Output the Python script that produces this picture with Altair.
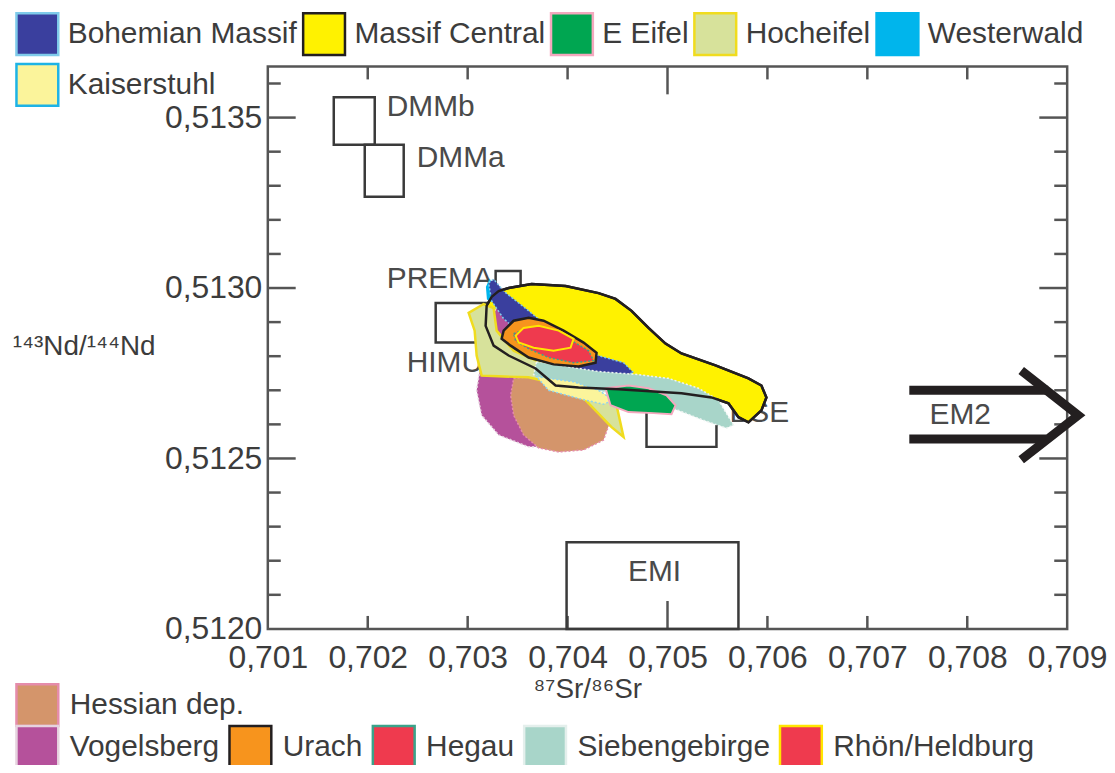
import altair as alt
import pandas as pd

W, H = 803, 565

# ---------------- axes ----------------
x_tick_values = [0.701, 0.702, 0.703, 0.704, 0.705, 0.706, 0.707, 0.708, 0.709]
y_tick_values = [0.5120, 0.5125, 0.5130, 0.5135]
x_minor = [0.702, 0.703, 0.704, 0.706, 0.707, 0.708]
x_major = [0.705]
y_minor = [0.5121, 0.5122, 0.5123, 0.5124, 0.5126, 0.5127, 0.5128, 0.5129,
           0.5131, 0.5132, 0.5133, 0.5134, 0.5136]
y_major = [0.5125, 0.5130, 0.5135]

# ---------------- reference boxes ----------------
box_names = ["DMMb", "DMMa", "PREMA", "HIMU", "BSE", "EMI"]
box_x1 = [0.70166, 0.70197, 0.70328, 0.70268, 0.70479, 0.70399]
box_x2 = [0.70207, 0.70236, 0.70353, 0.70321, 0.70549, 0.70571]
box_y1 = [0.513420, 0.513268, 0.512935, 0.512840, 0.512534, 0.512000]
box_y2 = [0.513560, 0.513420, 0.513050, 0.512956, 0.512665, 0.512254]

lab_left = ["DMMb", "DMMa", "PREMA", "HIMU", "BSE"]
lab_left_x = [0.70219, 0.70249, 0.70219, 0.70239, 0.70562]
lab_left_y = [0.513531, 0.513382, 0.513026, 0.512781, 0.512633]
lab_center = ["EMI", "EM2"]
lab_center_x = [0.70487, 0.70793]
lab_center_y = [0.512166, 0.512627]

# EM2 arrow
em2_path = ["a", "a", "b", "b", "c", "c", "c"]
em2_x = [0.70742, 0.70881, 0.70742, 0.70879, 0.70854, 0.70911, 0.70854]
em2_y = [0.512700, 0.512700, 0.512557, 0.512557, 0.512758, 0.512627, 0.512496]

# ---------------- fields (polygons) ----------------
mc_x = [0.70324, 0.70331, 0.70341, 0.70364, 0.70398, 0.70431, 0.70448, 0.70464, 0.70481,
        0.70498, 0.70514, 0.70548, 0.70581, 0.70594, 0.70599, 0.70594, 0.70581, 0.70571,
        0.70561, 0.70544, 0.70514, 0.70498, 0.70451, 0.70411, 0.70388, 0.70368, 0.70341,
        0.70326, 0.70318, 0.70319]
mc_y = [0.512974, 0.512991, 0.513000, 0.513012, 0.513006, 0.512985, 0.512968, 0.512933, 0.512883,
        0.512837, 0.512808, 0.512773, 0.512735, 0.512714, 0.512679, 0.512641, 0.512606, 0.512621,
        0.512662, 0.512679, 0.512691, 0.512694, 0.512703, 0.512708, 0.512714, 0.512764, 0.512802,
        0.512831, 0.512889, 0.512948]

vog_x = [0.70331, 0.70351, 0.70366, 0.70376, 0.70391, 0.70406, 0.70391, 0.70361, 0.70331,
         0.70314, 0.70309, 0.70313, 0.70319, 0.70323]
vog_y = [0.512948, 0.512933, 0.512875, 0.512773, 0.512671, 0.512554, 0.512534, 0.512534, 0.512569,
         0.512627, 0.512700, 0.512773, 0.512860, 0.512918]

hes_x = [0.70346, 0.70381, 0.70411, 0.70431, 0.70443, 0.70436, 0.70416, 0.70391, 0.70371,
         0.70356, 0.70346, 0.70343]
hes_y = [0.512735, 0.512743, 0.512714, 0.512671, 0.512612, 0.512554, 0.512525, 0.512519, 0.512531,
         0.512569, 0.512627, 0.512685]

kai_x = [0.70369, 0.70406, 0.70431, 0.70446, 0.70436, 0.70411, 0.70381]
kai_y = [0.512740, 0.512725, 0.512700, 0.512671, 0.512659, 0.512676, 0.512700]

hoc_x = [0.70301, 0.70316, 0.70326, 0.70329, 0.70346, 0.70376, 0.70406, 0.70431, 0.70449,
         0.70456, 0.70444, 0.70418, 0.70391, 0.70361, 0.70331, 0.70314, 0.70309, 0.70307]
hoc_y = [0.512927, 0.512953, 0.512941, 0.512875, 0.512816, 0.512778, 0.512738, 0.512697, 0.512656,
         0.512563, 0.512592, 0.512671, 0.512717, 0.512738, 0.512741, 0.512743, 0.512802, 0.512875]

wes_x = [0.70319, 0.70322, 0.70326, 0.70324, 0.70320]
wes_y = [0.513003, 0.513023, 0.512991, 0.512962, 0.512968]

boh_x = [0.70321, 0.70326, 0.70336, 0.70361, 0.70391, 0.70421, 0.70456, 0.70466, 0.70451,
         0.70421, 0.70391, 0.70361, 0.70336, 0.70324]
boh_y = [0.513015, 0.513026, 0.512991, 0.512933, 0.512860, 0.512810, 0.512781, 0.512752, 0.512738,
         0.512746, 0.512778, 0.512846, 0.512910, 0.512962]

sie_x = [0.70369, 0.70431, 0.70471, 0.70501, 0.70531, 0.70551, 0.70566, 0.70559, 0.70536,
         0.70511, 0.70481, 0.70451, 0.70421, 0.70391, 0.70366]
sie_y = [0.512784, 0.512755, 0.512746, 0.512735, 0.512706, 0.512671, 0.512598, 0.512589, 0.512612,
         0.512641, 0.512671, 0.512691, 0.512700, 0.512703, 0.512746]

eei_x = [0.70438, 0.70461, 0.70481, 0.70499, 0.70508, 0.70504, 0.70486, 0.70461, 0.70443]
eei_y = [0.512706, 0.512714, 0.512706, 0.512685, 0.512656, 0.512630, 0.512633, 0.512636, 0.512656]

ura_x = [0.70336, 0.70346, 0.70361, 0.70376, 0.70396, 0.70416, 0.70429, 0.70428, 0.70411,
         0.70386, 0.70361, 0.70343, 0.70334]
ura_y = [0.512875, 0.512904, 0.512913, 0.512904, 0.512875, 0.512840, 0.512810, 0.512781, 0.512770,
         0.512776, 0.512796, 0.512831, 0.512851]

heg_x = [0.70346, 0.70361, 0.70381, 0.70401, 0.70421, 0.70426, 0.70406, 0.70381, 0.70361, 0.70348]
heg_y = [0.512866, 0.512883, 0.512875, 0.512851, 0.512816, 0.512787, 0.512781, 0.512796, 0.512822,
         0.512845]

rho_x = [0.70348, 0.70356, 0.70371, 0.70391, 0.70406, 0.70403, 0.70386, 0.70366, 0.70351]
rho_y = [0.512860, 0.512883, 0.512889, 0.512875, 0.512851, 0.512825, 0.512816, 0.512825, 0.512840]

# ---------------- legends ----------------
leg1_names = ["Bohemian Massif", "Massif Central", "E Eifel", "Hocheifel", "Westerwald", "Kaiserstuhl"]
leg1_fill = ["#3A3F9E", "#FFF200", "#00A651", "#D7E29B", "#00B5EC", "#FBF49B"]
leg1_stroke = ["#7FCBEA", "#231F20", "#F4A8BE", "#F0DC1E", "#00B5EC", "#1DB3E6"]
leg2_names = ["Hessian dep."]
leg2_fill = ["#D4956B"]
leg2_stroke = ["#E58CAB"]
leg3_names = ["Vogelsberg", "Urach", "Hegau", "Siebengebirge", "Rhön/Heldburg"]
leg3_fill = ["#B5519B", "#F7941D", "#EF3A4E", "#A8D5C9", "#EF3A4E"]
leg3_stroke = ["#E6D3DF", "#231F20", "#3AA38A", "#E4EFEC", "#FFE600"]

FONT = "Liberation Sans"
TXT = "#3C3C3C"

xscale = alt.Scale(domain=[0.701, 0.709], nice=False, zero=False)
yscale = alt.Scale(domain=[0.5120, 0.51365], nice=False, zero=False)

xaxis = alt.Axis(values=x_tick_values,
                 labelExpr="replace(format(datum.value, '.3f'), '.', ',')",
                 ticks=False, domain=False, grid=False,
                 labelFont=FONT, labelFontSize=32, labelColor=TXT, labelPadding=14,
                 labelFlush=False, labelOverlap=False,
                 title="⁸⁷Sr/⁸⁶Sr", titleFont=FONT, titleFontSize=28,
                 titleFontWeight="normal", titleColor=TXT,
                 titleX=321, titleY=61, titleAlign="center", titleBaseline="middle")
yaxis = alt.Axis(values=y_tick_values,
                 labelExpr="replace(format(datum.value, '.4f'), '.', ',')",
                 ticks=False, domain=False, grid=False,
                 labelFont=FONT, labelFontSize=32, labelColor=TXT, labelPadding=6,
                 labelFlush=False, labelOverlap=False,
                 title="¹⁴³Nd/¹⁴⁴Nd", titleFont=FONT, titleFontSize=28,
                 titleFontWeight="normal", titleColor=TXT, titleAngle=0,
                 titleX=-185, titleY=281, titleAlign="center", titleBaseline="middle")

X = alt.X("x:Q", scale=xscale, axis=xaxis)
Y = alt.Y("y:Q", scale=yscale, axis=yaxis)

TICK = "#555555"
layers = []


def yrules(vals, x0, x1):
    return alt.Chart(pd.DataFrame({"y": vals})).mark_rule(color=TICK, strokeWidth=2.5).encode(
        y=Y, x=alt.value(x0), x2=alt.value(x1))


def xrules(vals, y0, y1):
    return alt.Chart(pd.DataFrame({"x": vals})).mark_rule(color=TICK, strokeWidth=2.5).encode(
        x=X, y=alt.value(y0), y2=alt.value(y1))


layers += [yrules(y_minor, 0, 13), yrules(y_major, 0, 28),
           yrules(y_minor, W, W - 13), yrules(y_major, W, W - 28),
           xrules(x_minor, 0, 13), xrules(x_major, 0, 28),
           xrules(x_minor, H, H - 13), xrules(x_major, H, H - 28)]

boxes = pd.DataFrame({"name": box_names, "x": box_x1, "x2": box_x2, "y": box_y1, "y2": box_y2})
layers.append(alt.Chart(boxes).mark_rect(fill="transparent", stroke="#3A3A3A", strokeWidth=2.5).encode(
    x=X, x2="x2:Q", y=Y, y2="y2:Q"))

layers.append(alt.Chart(pd.DataFrame({"t": lab_left, "x": lab_left_x, "y": lab_left_y})).mark_text(
    align="left", baseline="middle", font=FONT, fontSize=30, color="#4A4A4A").encode(x=X, y=Y, text="t:N"))
layers.append(alt.Chart(pd.DataFrame({"t": lab_center, "x": lab_center_x, "y": lab_center_y})).mark_text(
    align="center", baseline="middle", font=FONT, fontSize=30, color="#4A4A4A").encode(x=X, y=Y, text="t:N"))


def poly(xs, ys, fill, stroke, sw=2.0, dash=None):
    df = pd.DataFrame({"x": xs, "y": ys, "i": list(range(len(xs)))})
    kw = dict(fill=fill, stroke=stroke, strokeWidth=sw, interpolate="linear-closed")
    if dash is not None:
        kw["strokeDash"] = dash
    return alt.Chart(df).mark_line(**kw).encode(x=X, y=Y, order="i:Q")


layers.append(poly(mc_x, mc_y, "#FFF200", "#231F20", 2.5))
layers.append(poly(vog_x, vog_y, "#B5519B", "#E6D3DF", 1.5, [2, 2]))
layers.append(poly(hes_x, hes_y, "#D4956B", "#E58CAB", 1.5, [2, 2]))
layers.append(poly(hoc_x, hoc_y, "#D7E29B", "#F0DC1E", 2.5))
layers.append(poly(wes_x, wes_y, "#00B5EC", "#00B5EC", 1.5))
layers.append(poly(boh_x, boh_y, "#3A3F9E", "#7FCBEA", 1.5, [2, 2]))
layers.append(poly(sie_x, sie_y, "#A8D5C9", "#EEF4F2", 1.5, [2, 2]))
layers.append(poly(kai_x, kai_y, "#FBF49B", "#8FD3F0", 1.5, [2, 2]))
layers.append(poly(eei_x, eei_y, "#00A651", "#F4A8BE", 2.0))
mc_df = pd.DataFrame({"x": mc_x, "y": mc_y, "i": list(range(len(mc_x)))})
layers.append(alt.Chart(mc_df).mark_line(stroke="#231F20", strokeWidth=2.5,
                                         interpolate="linear-closed").encode(x=X, y=Y, order="i:Q"))
layers.append(poly(ura_x, ura_y, "#F7941D", "#231F20", 2.5))
layers.append(poly(heg_x, heg_y, "#EF3A4E", "#3AA38A", 1.5, [2, 2]))
layers.append(poly(rho_x, rho_y, "#EF3A4E", "#FFE600", 2.0))

em2 = pd.DataFrame({"p": em2_path, "x": em2_x, "y": em2_y, "i": list(range(len(em2_x)))})
layers.append(alt.Chart(em2).mark_line(color="#231F20", strokeWidth=9).encode(
    x=X, y=Y, detail="p:N", order="i:Q"))


def legend_layer(field, names, fills, strokes, lx, ly, cols, colpad, offset):
    lg = alt.Legend(orient="none", legendX=lx, legendY=ly, direction="horizontal", columns=cols,
                    title=None, symbolType="square", symbolSize=1764, symbolStrokeWidth=2.5,
                    symbolOpacity=1, labelFont=FONT, labelFontSize=30, labelColor=TXT,
                    labelOffset=offset, columnPadding=colpad, rowPadding=-2, gridAlign="none",
                    labelLimit=400)
    df = pd.DataFrame({field: names})
    return alt.Chart(df).mark_square(opacity=0, size=1).encode(
        fill=alt.Fill(f"{field}:N", scale=alt.Scale(domain=names, range=fills), legend=lg),
        stroke=alt.Stroke(f"{field}:N", scale=alt.Scale(domain=names, range=strokes), legend=lg))


layers.append(legend_layer("g1", leg1_names, leg1_fill, leg1_stroke, -254, -55, 5, 0, 8))
layers.append(legend_layer("g2", leg2_names, leg2_fill, leg2_stroke, -254, 619, 1, 4, 10))
layers.append(legend_layer("g3", leg3_names, leg3_fill, leg3_stroke, -254, 661, 5, 4, 10))

chart = alt.layer(*layers).resolve_scale(fill="independent", stroke="independent").properties(
    width=W, height=H,
    autosize=alt.AutoSizeParams(type="none"),
    padding={"left": 261, "top": 57, "right": 40, "bottom": 135},
).configure_view(fill="#F5F1E4", stroke="#555555", strokeWidth=2.5)

chart.save("out.html", embed_options={"renderer": "svg", "actions": False})
